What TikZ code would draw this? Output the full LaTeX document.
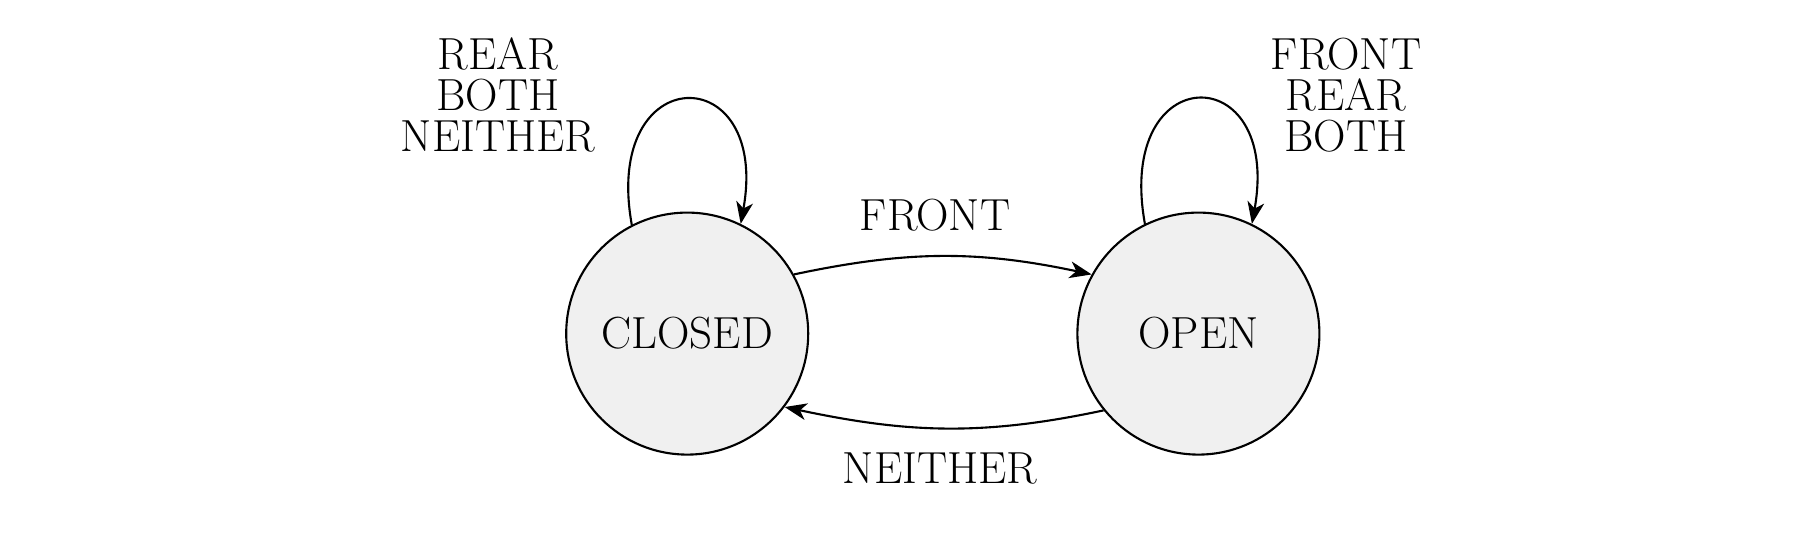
\documentclass[tikz,border=0pt]{standalone}
\usepackage{fontspec}
\usetikzlibrary{arrows.meta}
\definecolor{stategray}{HTML}{F0F0F0}
\tikzset{
  every node/.style={font=\fontsize{32}{29.5}\selectfont},
  state/.style={circle, draw, line width=1.5pt, fill=stategray,
                minimum size=6.05cm, inner sep=0pt},
  lbl/.style={align=center, anchor=base, inner sep=0pt},
  trans/.style={-{Stealth[length=5.5mm, width=4.2mm, inset=1.6mm]}, line width=1.5pt},
}

\begin{document}
\begin{tikzpicture}
  \useasboundingbox (0, 0) rectangle (45.2, 13.4);
  \node [state] (closed) at (17.18, 5.06) {CLOSED};  % zustand zu
  \node [state] (open) at (29.96, 5.06) {OPEN};  % zustand offen
  \node [lbl] (lblclosed) at (12.45, 9.6) {REAR\\BOTH\\NEITHER};
  \node [lbl] (lblopen) at (33.65, 9.6) {FRONT\\REAR\\BOTH};
  \node [lbl] (lblfront) at (23.375, 7.625) {FRONT};
  \node [lbl] (lblneither) at (23.5, 1.3) {NEITHER};
  \draw [trans] (closed.117) .. controls +(-0.75, 4.15) and +(0.75, 4.15) .. (closed.64);  % schleife
  \draw [trans] (open.116) .. controls +(-0.75, 4.15) and +(0.75, 4.15) .. (open.64);  % schleife
  \draw [trans] (closed.29) to [out=12, in=168] (open.151);
  \draw [trans] (open.219) to [out=192, in=-12] (closed.-37);
\end{tikzpicture}
\end{document}
